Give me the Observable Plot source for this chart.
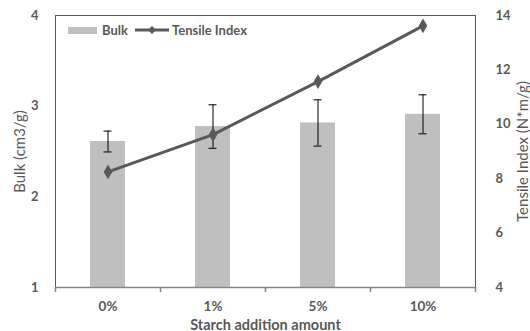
<!DOCTYPE html>
<html>
<head>
<meta charset="utf-8">
<script src="https://cdn.jsdelivr.net/npm/d3@7"></script>
<script src="https://cdn.jsdelivr.net/npm/@observablehq/plot@0.6"></script>
<style>
  html, body { margin: 0; padding: 0; background: #fff; }
  #wrap { position: relative; width: 530px; height: 331px; font-family: Lato, "Open Sans", sans-serif; }
  #legend { position: absolute; left: 68px; top: 22px; display: flex; align-items: center; font-size: 13px; font-weight: bold; color: #595959; }
  #legend .item { display: flex; align-items: center; margin-right: 6px; }
  #legend .sw { width: 29px; height: 7px; background: #bfbfbf; margin-right: 5px; }
  #legend svg { margin-right: 2px; }
  svg text { font-family: Lato, "Open Sans", sans-serif; }
</style>
</head>
<body>
<div id="wrap">
  <div id="chart"></div>
  <div id="legend">
    <div class="item"><div class="sw"></div><span>Bulk</span></div>
    <div class="item"><svg width="36" height="10"><line x1="1" y1="5" x2="35" y2="5" stroke="#595959" stroke-width="3"/><path d="M18 1 L22 5 L18 9 L14 5 Z" fill="#595959"/></svg><span>Tensile Index</span></div>
  </div>
</div>
<script>
const categories = ["0%", "1%", "5%", "10%"];
const bulk = [2.61, 2.775, 2.815, 2.91];
const bulkErr = [0.115, 0.24, 0.255, 0.215];
const tensile = [8.25, 9.62, 11.57, 13.62];
const bulkTicks = [1, 2, 3, 4];
const tensileTicks = [4, 6, 8, 10, 12, 14];
const bulkDomain = [1, 4];
const tensileDomain = [4, 14];

// map tensile values onto the bulk (left) scale
const toLeft = t => bulkDomain[0] + (t - tensileDomain[0]) * (bulkDomain[1] - bulkDomain[0]) / (tensileDomain[1] - tensileDomain[0]);
const toRight = v => tensileDomain[0] + (v - bulkDomain[0]) * (tensileDomain[1] - tensileDomain[0]) / (bulkDomain[1] - bulkDomain[0]);

const data = categories.map((c, i) => ({cat: c, bulk: bulk[i], err: bulkErr[i], t: tensile[i]}));

const gray = "#595959";
const chart = Plot.plot({
  width: 530,
  height: 331,
  marginLeft: 55,
  marginRight: 55,
  marginTop: 15,
  marginBottom: 44,
  style: {fontSize: "12.5px", color: gray, fontWeight: "bold"},
  x: {domain: categories, paddingInner: 0.667, paddingOuter: 0.333, label: null},
  y: {domain: bulkDomain, label: null},
  marks: [
    Plot.barY(data, {x: "cat", y1: bulkDomain[0], y2: "bulk", fill: "#bfbfbf"}),
    Plot.ruleX(data, {x: "cat", y1: d => d.bulk - d.err, y2: d => d.bulk + d.err, stroke: "#000", strokeWidth: 1}),
    Plot.tickY(data, {x: "cat", y: d => d.bulk + d.err, stroke: "#000", strokeWidth: 1, insetLeft: 13.5, insetRight: 13.5}),
    Plot.tickY(data, {x: "cat", y: d => d.bulk - d.err, stroke: "#000", strokeWidth: 1, insetLeft: 13.5, insetRight: 13.5}),
    Plot.line(data, {x: "cat", y: d => toLeft(d.t), stroke: gray, strokeWidth: 3}),
    Plot.dot(data, {x: "cat", y: d => toLeft(d.t), symbol: "diamond", r: 4.5, fill: gray}),
    Plot.frame({stroke: gray, strokeWidth: 1}),
    Plot.ruleY([bulkDomain[0]], {stroke: "#868686", strokeWidth: 1.5}),
    Plot.axisY({anchor: "left", ticks: bulkTicks, tickFormat: d => String(d), tickSize: 0, tickPadding: 17, fontSize: 13, fontWeight: "bold",
      label: "Bulk (cm3/g)", labelAnchor: "center", labelArrow: "none", labelOffset: 41}),
    Plot.axisY({anchor: "right", ticks: tensileTicks.map(toLeft), tickFormat: v => String(Math.round(toRight(v))), fontSize: 13,
      tickSize: 0, tickPadding: 20, label: "Tensile Index (N*m/g)", labelAnchor: "center", labelArrow: "none", labelOffset: 52}),
    Plot.axisX({ticks: categories, tickSize: 5, dx: 52.5, text: null, stroke: "#868686", strokeWidth: 1.5, label: null}),
    Plot.axisX({ticks: categories.slice(0, 1), tickSize: 5, dx: -52.5, text: null, stroke: "#868686", strokeWidth: 1.5, label: null}),
    Plot.axisX({ticks: categories, tickSize: 0, tickPadding: 14, fontSize: 13.5, fontWeight: "bold",
      label: "Starch addition amount", labelAnchor: "center", labelArrow: "none", labelOffset: 42})
  ]
});
document.getElementById("chart").appendChild(chart);
// y-axis titles use regular weight and a slightly larger size
chart.querySelectorAll("g[aria-label='y-axis label']").forEach(g => {
  g.setAttribute("font-weight", "normal");
  g.setAttribute("font-size", "15");
  g.querySelectorAll("text").forEach(t => t.setAttribute("font-weight", "normal"));
});
chart.querySelectorAll("g[aria-label='x-axis label']").forEach(g => g.setAttribute("font-size", "14.5"));
</script>
</body>
</html>
